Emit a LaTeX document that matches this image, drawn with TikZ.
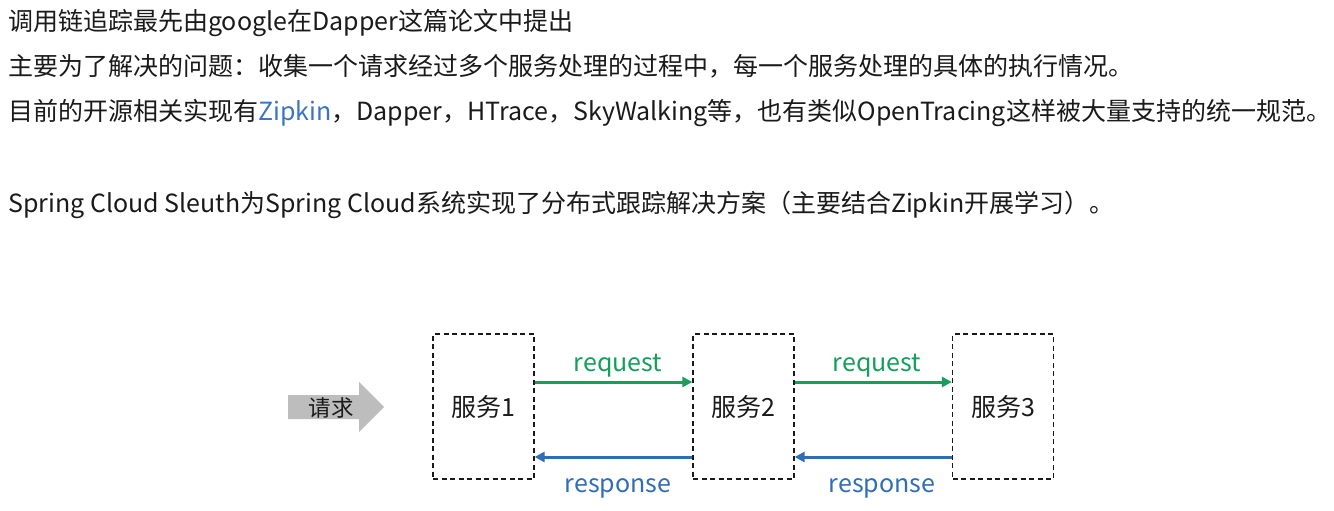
\documentclass[tikz,border=0pt]{standalone}
\usepackage{fontspec}
\setmainfont{Noto Sans CJK SC}
\usetikzlibrary{arrows.meta}
\definecolor{reqgreen}{HTML}{149F5B}
\definecolor{respblue}{HTML}{2F6DB5}
\definecolor{zipblue}{HTML}{3A76C0}
\definecolor{arrgray}{HTML}{BDBDBD}
\definecolor{txt}{HTML}{1A1A1A}
\tikzset{
  line/.style={anchor=base west, inner sep=0pt, text=txt, font=\fontsize{25}{30}\selectfont},
  svc/.style={draw=txt, dash pattern=on 5pt off 3.5pt, line width=1.3pt, minimum width=101pt, minimum height=145pt, inner sep=0pt, text=txt, font=\fontsize{25}{30}\selectfont},
  reqarrow/.style={draw=reqgreen, line width=3pt, -{Triangle[length=10pt,width=10pt]}},
  resparrow/.style={draw=respblue, line width=3pt, -{Triangle[length=10pt,width=10pt]}},
  reqlabel/.style={text=reqgreen, font=\fontsize{25}{30}\selectfont, inner sep=0pt},
  resplabel/.style={text=respblue, font=\fontsize{25}{30}\selectfont, inner sep=0pt},
}
\begin{document}
\begin{tikzpicture}[x=1pt,y=-1pt]
\useasboundingbox (0,0) rectangle (1334,511);
\fill[white] (0,0) rectangle (1334,511);
\node[line] (l1) at (8,31) {调用链追踪最先由google在Dapper这篇论文中提出};
\node[line] (l2) at (8,76) {主要为了解决的问题：收集一个请求经过多个服务处理的过程中，每一个服务处理的具体的执行情况。};
\node[line] (l3) at (8,121) {目前的开源相关实现有\textcolor{zipblue}{Zipkin}，Dapper，HTrace，SkyWalking等，也有类似OpenTracing这样被大量支持的统一规范。};
\node[line] (l4) at (8,212) {Spring Cloud Sleuth为Spring Cloud系统实现了分布式跟踪解决方案（主要结合Zipkin开展学习）。};
% gray input arrow
\fill[arrgray] (288,395) -- (359,395) -- (359,382) -- (384,407) -- (359,432) -- (359,419) -- (288,419) -- cycle;
\node[text=txt, font=\fontsize{22.5}{27}\selectfont, inner sep=0pt] (qing) at (331,408) {请求};
% services
\node[svc] (s1) at (483.5,406.5) {服务1};
\node[svc] (s2) at (743.5,406.5) {服务2};
\node[svc] (s3) at (1003,406.5) {服务3};
% request arrows
\coordinate (r1a) at ([yshift=24.5pt]s1.east);
\coordinate (r1b) at ([yshift=24.5pt]s2.west);
\coordinate (r2a) at ([yshift=24.5pt]s2.east);
\coordinate (r2b) at ([yshift=24.5pt]s3.west);
\draw[reqarrow] (r1a) -- (r1b);
\draw[reqarrow] (r2a) -- (r2b);
\node[reqlabel] (q1) at (618,366) {request};
\node[reqlabel] (q2) at (877,366) {request};
% response arrows
\coordinate (p1a) at ([yshift=-50.5pt]s2.west);
\coordinate (p1b) at ([yshift=-50.5pt]s1.east);
\coordinate (p2a) at ([yshift=-50.5pt]s3.west);
\coordinate (p2b) at ([yshift=-50.5pt]s2.east);
\draw[resparrow] (p1a) -- (p1b);
\draw[resparrow] (p2a) -- (p2b);
\node[resplabel] (a1) at (618,488) {response};
\node[resplabel] (a2) at (882,488) {response};
\end{tikzpicture}
\end{document}
